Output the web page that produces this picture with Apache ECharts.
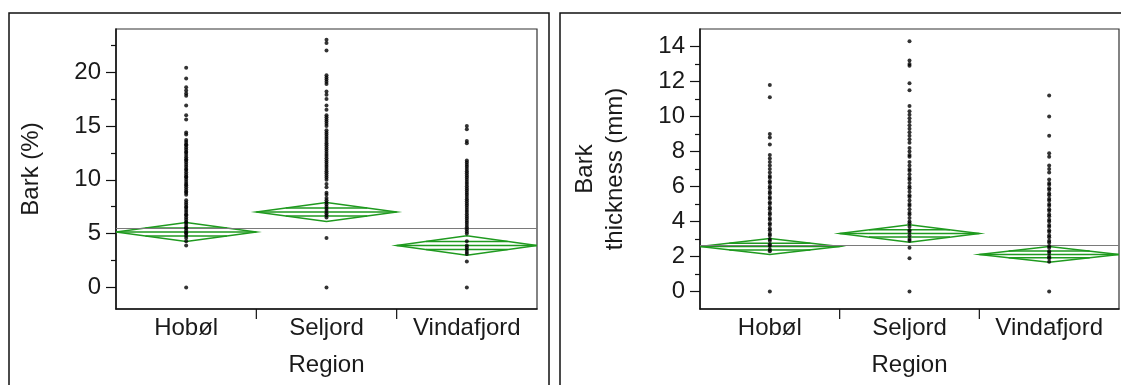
<!DOCTYPE html>
<html>
<head>
<meta charset="utf-8">
<script src="https://cdn.jsdelivr.net/npm/echarts@6/dist/echarts.min.js"></script>
<style>
  html, body { margin: 0; padding: 0; background: #ffffff; }
  #chart { width: 1121px; height: 385px; }
</style>
</head>
<body>
<div id="chart"></div>
<script>
// Regions on the x axis
const regions = ['Hobøl', 'Seljord', 'Vindafjord'];

// Bark (%) per tree, by region
const barkPctHobol = [20.4, 19.4, 18.6, 18.3, 18.0, 17.8, 16.9, 16.0, 15.6, 14.4, 14.2,
  13.7, 13.5, 13.3, 13.2, 13.0, 12.8, 12.6, 12.5, 12.3, 12.1, 11.9, 11.8, 11.6, 11.4, 11.2,
  11.0, 10.9, 10.7, 10.5, 10.3, 10.2, 10.0, 9.8, 9.6, 9.5, 9.3, 9.1, 8.9, 8.8, 8.6,
  8.1, 7.9, 7.7, 7.5, 7.4, 7.2, 7.0, 6.8, 6.7, 6.5, 6.3, 6.1, 6.0, 5.8, 5.6, 5.5, 5.3,
  5.1, 5.0, 4.8, 4.6, 4.3, 3.9, 0];
const barkPctSeljord = [23.0, 22.7, 22.0, 19.7, 19.5, 19.3, 19.1, 18.9, 18.2, 17.9, 17.5,
  16.9, 16.5, 16.0, 15.8, 15.6, 15.4, 15.2, 15.0, 14.6, 14.4, 14.2, 14.0, 13.8, 13.6, 13.4,
  13.2, 13.0, 12.8, 12.6, 12.4, 12.2, 12.0, 11.8, 11.6, 11.4, 11.2, 11.0, 10.8, 10.6, 10.4,
  10.2, 10.0, 9.6, 9.3, 8.8, 8.6, 8.3, 8.1, 7.9, 7.7, 7.5, 7.3, 7.1, 6.9, 6.7, 6.5, 4.6, 0];
const barkPctVindafjord = [15.0, 14.7, 13.6, 13.4, 11.8, 11.6, 11.4, 11.2, 11.0, 10.8, 10.6,
  10.4, 10.2, 10.0, 9.8, 9.6, 9.4, 9.2, 9.0, 8.8, 8.6, 8.4, 8.2, 8.0, 7.8, 7.6, 7.4, 7.2,
  7.0, 6.8, 6.6, 6.4, 6.2, 6.0, 5.8, 5.6, 5.4, 5.2, 5.0, 4.3, 3.9, 3.7, 3.5, 3.3, 3.1, 2.4, 0];

// Bark thickness (mm) per tree, by region
const thickHobol = [11.8, 11.1, 9.0, 8.8, 8.4, 7.8, 7.6, 7.4, 7.2, 7.0, 6.8, 6.6, 6.5, 6.3,
  6.2, 6.0, 5.9, 5.7, 5.6, 5.4, 5.3, 5.1, 5.0, 4.8, 4.7, 4.5, 4.4, 4.2, 4.1, 3.9, 3.8, 3.6,
  3.5, 3.3, 3.2, 3.0, 2.9, 2.7, 2.6, 2.4, 2.3, 0];
const thickSeljord = [14.3, 13.2, 13.0, 12.9, 11.9, 11.5, 10.6, 10.3, 10.1, 9.9, 9.7, 9.5,
  9.3, 9.1, 8.9, 8.7, 8.5, 8.2, 8.0, 7.8, 7.7, 7.4, 7.2, 7.0, 6.9, 6.7, 6.5, 6.4, 6.2, 6.0,
  5.9, 5.7, 5.5, 5.4, 5.2, 5.0, 4.9, 4.7, 4.5, 4.4, 4.2, 4.0, 3.9, 3.7, 3.5, 3.4, 3.2, 3.0,
  2.9, 2.5, 1.9, 0];
const thickVindafjord = [11.2, 10.0, 8.9, 7.9, 7.7, 7.2, 7.0, 6.8, 6.4, 6.2, 6.1, 5.9, 5.8,
  5.6, 5.5, 5.3, 5.2, 5.0, 4.9, 4.7, 4.6, 4.4, 4.3, 4.1, 4.0, 3.8, 3.7, 3.5, 3.4, 3.2, 3.1,
  2.9, 2.8, 2.6, 2.5, 2.3, 2.2, 2.0, 1.9, 1.7, 0];

// Group means, 95% CI half-widths and grand means
const barkPctMeans = [5.15, 7.0, 3.9];
const barkPctCI = [0.88, 0.88, 0.9];
const barkPctGrandMean = 5.48;
const thickMeans = [2.57, 3.32, 2.12];
const thickCI = [0.46, 0.5, 0.45];
const thickGrandMean = 2.66;

// Axis ticks
const barkPctMajorTicks = [0, 5, 10, 15, 20];
const barkPctMinorTicks = [2.5, 7.5, 12.5, 17.5, 22.5];
const thickMajorTicks = [0, 2, 4, 6, 8, 10, 12, 14];
const thickMinorTicks = [1, 3, 5, 7, 9, 11, 13];

const FONT = 'Liberation Sans, Arial, sans-serif';
const TEXT = '#1a1a1a';
const GREEN = '#1f9a1f';
const OVERLAP = 0.42;   // relative height of the overlap marks inside each diamond

const barkPctGroups = [barkPctHobol, barkPctSeljord, barkPctVindafjord];
const thickGroups = [thickHobol, thickSeljord, thickVindafjord];

function pointsOf(groups) {
  const out = [];
  groups.forEach((vals, i) => vals.forEach(v => out.push([regions[i], v])));
  return out;
}

function diamondData(means, ci) {
  return means.map((m, i) => [i, m, ci[i]]);
}

function renderDiamond(params, api) {
  const i = api.value(0), m = api.value(1), h = api.value(2);
  const c = api.coord([i, m]);
  const yTop = api.coord([i, m + h])[1];
  const yBot = api.coord([i, m - h])[1];
  const yUp = api.coord([i, m + OVERLAP * h])[1];
  const yDn = api.coord([i, m - OVERLAP * h])[1];
  const hw = api.size([1, 0])[0] / 2;
  const ow = hw * (1 - OVERLAP);
  const style = { stroke: GREEN, lineWidth: 1.5, fill: null };
  return {
    type: 'group',
    children: [
      { type: 'polygon', shape: { points: [[c[0] - hw, c[1]], [c[0], yTop], [c[0] + hw, c[1]], [c[0], yBot]] }, style },
      { type: 'line', shape: { x1: c[0] - hw, y1: c[1], x2: c[0] + hw, y2: c[1] }, style },
      { type: 'line', shape: { x1: c[0] - ow, y1: yUp, x2: c[0] + ow, y2: yUp }, style },
      { type: 'line', shape: { x1: c[0] - ow, y1: yDn, x2: c[0] + ow, y2: yDn }, style }
    ]
  };
}

// Tick marks between neighbouring regions, hanging below the x axis
function makeSeparatorRenderer(yMin) {
  return function (params, api) {
    const i = api.value(0);
    const half = api.size([1, 0])[0] / 2;
    const p = api.coord([i, yMin]);
    return {
      type: 'line',
      shape: { x1: p[0] - half, y1: p[1], x2: p[0] - half, y2: p[1] + 10 },
      style: { stroke: '#111', lineWidth: 1.2 }
    };
  };
}
const separatorData = regions.slice(1).map((_, k) => [k + 1]);

const grids = [
  { left: 116, top: 29, width: 421, height: 280 },
  { left: 700, top: 29, width: 419, height: 280 }
];

function xAxisFor(gridIndex) {
  return {
    type: 'category', gridIndex, data: regions, boundaryGap: true,
    name: 'Region', nameLocation: 'middle', nameGap: 44,
    nameTextStyle: { fontFamily: FONT, fontSize: 24, color: TEXT },
    axisLine: { onZero: false, lineStyle: { color: '#111', width: 1.5 } },
    axisTick: { show: false },
    axisLabel: { interval: 0, hideOverlap: false, fontFamily: FONT, fontSize: 24, color: TEXT, margin: 7 },
    splitLine: { show: false }
  };
}

function yMajor(gridIndex, min, max, name, major) {
  return {
    type: 'value', gridIndex, min, max, position: 'left',
    name, nameLocation: 'middle', nameRotate: 90, nameGap: 70,
    nameTextStyle: { fontFamily: FONT, fontSize: 24, color: TEXT, lineHeight: 30, align: 'center' },
    axisLine: { show: true, onZero: false, lineStyle: { color: '#111', width: 1.5 } },
    axisTick: { show: true, length: 10, customValues: major, lineStyle: { color: '#111', width: 1.2 } },
    axisLabel: { customValues: major, fontFamily: FONT, fontSize: 24, color: TEXT, margin: 15 },
    splitLine: { show: false }
  };
}

function yMinor(gridIndex, min, max, minor) {
  return {
    type: 'value', gridIndex, min, max, position: 'left', offset: 0,
    axisLine: { show: false, onZero: false },
    axisTick: { show: true, length: 5, customValues: minor, lineStyle: { color: '#111', width: 1.2 } },
    axisLabel: { show: false },
    splitLine: { show: false }
  };
}

function panelSeries(xi, yi, groups, means, ci, grandMean, yMin) {
  return [
    {
      type: 'line', xAxisIndex: xi, yAxisIndex: yi, data: [], silent: true,
      markLine: {
        silent: true, symbol: 'none', label: { show: false },
        lineStyle: { color: '#7a7a7a', width: 1.2, type: 'solid' },
        data: [{ yAxis: grandMean }]
      }
    },
    {
      type: 'custom', xAxisIndex: xi, yAxisIndex: yi, clip: true, silent: true,
      renderItem: renderDiamond, data: diamondData(means, ci), z: 3
    },
    {
      type: 'scatter', xAxisIndex: xi, yAxisIndex: yi, silent: true,
      symbol: 'circle', symbolSize: 4,
      itemStyle: { color: '#000' },
      data: pointsOf(groups), z: 5
    },
    {
      type: 'custom', xAxisIndex: xi, yAxisIndex: yi, clip: false, silent: true,
      renderItem: makeSeparatorRenderer(yMin), data: separatorData, z: 6
    }
  ];
}

const chart = echarts.init(document.getElementById('chart'), null, { renderer: 'canvas' });
chart.setOption({
  animation: false,
  backgroundColor: '#ffffff',
  graphic: [
    { type: 'rect', shape: { x: 9, y: 13, width: 540, height: 390 }, style: { fill: null, stroke: '#111', lineWidth: 1.5 } },
    { type: 'rect', shape: { x: 560, y: 13, width: 580, height: 390 }, style: { fill: null, stroke: '#111', lineWidth: 1.5 } }
  ],
  grid: grids.map(g => Object.assign({ show: true, borderColor: '#333', borderWidth: 1.2, backgroundColor: '#fff' }, g)),
  xAxis: [xAxisFor(0), xAxisFor(1)],
  yAxis: [
    yMajor(0, -2, 24, 'Bark (%)', barkPctMajorTicks),
    yMinor(0, -2, 24, barkPctMinorTicks),
    yMajor(1, -1, 15, 'Bark\nthickness (mm)', thickMajorTicks),
    yMinor(1, -1, 15, thickMinorTicks)
  ],
  series: [
    ...panelSeries(0, 0, barkPctGroups, barkPctMeans, barkPctCI, barkPctGrandMean, -2),
    ...panelSeries(1, 2, thickGroups, thickMeans, thickCI, thickGrandMean, -1)
  ]
});
</script>
</body>
</html>
